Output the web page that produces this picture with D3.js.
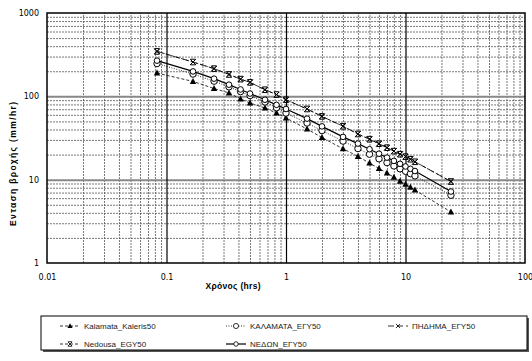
<!DOCTYPE html>
<html>
<head>
<meta charset="utf-8">
<script src="https://cdn.jsdelivr.net/npm/d3@7"></script>
<style>
  body { margin: 0; background: #fff; }
  svg { display: block; font-family: "Liberation Sans", Arial, sans-serif; }
</style>
</head>
<body>
<script>
// durations in hours (5 min ... 24 h)
const durations = [0.0833, 0.1667, 0.25, 0.3333, 0.4167, 0.5, 0.6667, 0.8333, 1,
  1.5, 2, 3, 4, 5, 6, 7, 8, 9, 10, 11, 12, 24];

const kalamataKaleris = [190, 151, 124, 110, 93, 83, 72.4, 63, 55,
  40.5, 32, 23.5, 19, 15.8, 13.6, 12, 10.7, 9.6, 8.8, 8.1, 7.5, 4.1];
const kalamataEgy = [247, 185, 152, 130, 114, 102, 85.5, 73, 63,
  47.8, 38.8, 29, 23.6, 20.2, 17.8, 16, 14.6, 13.5, 12.6, 11.8, 11.1, 6.5];
const pidimaEgy = [346, 258, 215, 183, 161, 147, 120, 105, 91,
  70.5, 57.4, 43.8, 35.3, 30.6, 27, 24.2, 22, 20.2, 18.9, 17.6, 16.4, 9.5];
const nedousaEgy = [346, 258, 215, 183, 161, 147, 120, 105, 91,
  70.5, 57.4, 43.8, 35.3, 30.6, 27, 24.2, 22, 20.2, 18.9, 17.6, 16.4, 9.5];
const nedonEgy = [268, 199, 163, 138, 121, 108, 91, 79, 70.5,
  54, 43.6, 32.6, 27.1, 23.2, 20.5, 18.4, 16.8, 15.5, 14.4, 13.5, 12.7, 7.2];

const xTicks = [0.01, 0.1, 1, 10, 100];
const yTicks = [1, 10, 100, 1000];

const series = [
  { name: "Kalamata_Kaleris50", values: kalamataKaleris, dash: "3,2", marker: "triangle" },
  { name: "ΚΑΛΑΜΑΤΑ_ΕΓΥ50", values: kalamataEgy, dash: "1,1.5", marker: "circle" },
  { name: "ΠΗΔΗΜΑ_ΕΓΥ50", values: pidimaEgy, dash: "6,3", marker: "x" },
  { name: "Nedousa_EGY50", values: nedousaEgy, dash: "3,2", marker: "star" },
  { name: "ΝΕΔΩΝ_ΕΓΥ50", values: nedonEgy, dash: null, marker: "smallcircle" }
];

const width = 532, height = 361;
const marginLeft = 47, marginTop = 13;
const plotW = 478, plotH = 250;

const svg = d3.select("body").append("svg")
  .attr("width", width).attr("height", height);

const x = d3.scaleLog().domain([0.01, 100]).range([0, plotW]);
const y = d3.scaleLog().domain([1, 1000]).range([plotH, 0]);

const g = svg.append("g").attr("transform", "translate(" + marginLeft + "," + marginTop + ")");

// minor grid values
const minorX = [], minorY = [];
[0.01, 0.1, 1, 10].forEach(function (d) {
  for (let k = 2; k <= 9; k++) minorX.push(d * k);
});
[1, 10, 100].forEach(function (d) {
  for (let k = 2; k <= 9; k++) minorY.push(d * k);
});

g.append("g")
  .attr("transform", "translate(0," + plotH + ")")
  .call(d3.axisBottom(x).tickValues(minorX).tickSize(-plotH).tickFormat(""))
  .call(function (a) {
    a.select(".domain").remove();
    a.selectAll("line").attr("stroke", "#555").attr("stroke-width", 0.8).attr("stroke-dasharray", "2,1");
  });

g.append("g")
  .call(d3.axisLeft(y).tickValues(minorY).tickSize(-plotW).tickFormat(""))
  .call(function (a) {
    a.select(".domain").remove();
    a.selectAll("line").attr("stroke", "#555").attr("stroke-width", 0.8).attr("stroke-dasharray", "2,1");
  });

// major grid
g.append("g")
  .call(d3.axisLeft(y).tickValues([10, 100]).tickSize(-plotW).tickFormat(""))
  .call(function (a) {
    a.select(".domain").remove();
    a.selectAll("line").attr("stroke", "#888").attr("stroke-width", 2);
  });

g.append("g")
  .attr("transform", "translate(0," + plotH + ")")
  .call(d3.axisBottom(x).tickValues([0.1, 1, 10]).tickSize(-plotH).tickFormat(""))
  .call(function (a) {
    a.select(".domain").remove();
    a.selectAll("line").attr("stroke", "#000").attr("stroke-width", 1.2);
  });

// tick labels
g.append("g")
  .attr("transform", "translate(0," + plotH + ")")
  .call(d3.axisBottom(x).tickValues(xTicks).tickSize(0).tickPadding(11)
    .tickFormat(function (d) { return String(d); }))
  .call(function (a) {
    a.select(".domain").remove();
    a.selectAll("text").attr("font-size", 8).attr("fill", "#000")
      .attr("font-family", "'DejaVu Sans', sans-serif");
  });

g.append("g")
  .call(d3.axisLeft(y).tickValues(yTicks).tickSize(0).tickPadding(8)
    .tickFormat(function (d) { return String(d); }))
  .call(function (a) {
    a.select(".domain").remove();
    a.selectAll("text").attr("font-size", 8).attr("fill", "#000")
      .attr("font-family", "'DejaVu Sans', sans-serif");
  });

// border
g.append("rect").attr("width", plotW).attr("height", plotH)
  .attr("fill", "none").attr("stroke", "#000").attr("stroke-width", 1.5);

// clip
svg.append("clipPath").attr("id", "clip").append("rect")
  .attr("width", plotW).attr("height", plotH);

const plot = g.append("g").attr("clip-path", "url(#clip)");

function drawMarker(sel, type) {
  if (type === "triangle") {
    sel.append("path").attr("d", "M0,-3.5L3.2,2.5L-3.2,2.5Z").attr("fill", "#000");
  } else if (type === "circle") {
    sel.append("circle").attr("r", 3.2).attr("fill", "#fff").attr("stroke", "#000").attr("stroke-width", 1);
  } else if (type === "smallcircle") {
    sel.append("circle").attr("r", 2.8).attr("fill", "#fff").attr("stroke", "#000").attr("stroke-width", 1);
  } else if (type === "x") {
    sel.append("path").attr("d", "M-2.6,-2.6L2.6,2.6M-2.6,2.6L2.6,-2.6")
      .attr("stroke", "#000").attr("stroke-width", 1);
  } else if (type === "star") {
    sel.append("path").attr("d", "M-2.6,-2.6L2.6,2.6M-2.6,2.6L2.6,-2.6M-2.6,-2.8L2.6,-2.8M-2.6,2.8L2.6,2.8")
      .attr("stroke", "#000").attr("stroke-width", 1);
  }
}

const line = d3.line()
  .x(function (d) { return x(d[0]); })
  .y(function (d) { return y(d[1]); });

series.forEach(function (s) {
  const pts = durations.map(function (t, i) { return [t, s.values[i]]; });
  plot.append("path").datum(pts)
    .attr("fill", "none")
    .attr("stroke", "#000")
    .attr("stroke-width", s.dash ? 0.8 : 1.2)
    .attr("stroke-dasharray", s.dash)
    .attr("d", line);
});

series.forEach(function (s) {
  const pts = durations.map(function (t, i) { return [t, s.values[i]]; });
  plot.selectAll(null).data(pts).enter().append("g")
    .attr("transform", function (d) { return "translate(" + x(d[0]) + "," + y(d[1]) + ")"; })
    .each(function () { drawMarker(d3.select(this), s.marker); });
});

// axis titles
svg.append("text")
  .attr("x", 233).attr("y", 289)
  .attr("text-anchor", "middle")
  .attr("font-size", 8.5).attr("font-weight", "bold")
  .attr("textLength", 55).attr("lengthAdjust", "spacing")
  .text("Χρόνος (hrs)");

svg.append("text")
  .attr("transform", "translate(16,164) rotate(-90)")
  .attr("text-anchor", "middle")
  .attr("font-size", 8.5).attr("font-weight", "bold")
  .attr("textLength", 124).attr("lengthAdjust", "spacing")
  .text("Ενταση βροχής (mm/hr)");

// legend
const legend = svg.append("g");
legend.append("rect").attr("x", 43).attr("y", 318).attr("width", 486).attr("height", 34)
  .attr("fill", "#555");
legend.append("rect").attr("x", 41).attr("y", 316).attr("width", 486).attr("height", 34)
  .attr("fill", "#fff").attr("stroke", "#000").attr("stroke-width", 1);

const legendPos = [
  { x: 60, y: 326 }, { x: 226, y: 326 }, { x: 388, y: 326 },
  { x: 60, y: 344 }, { x: 226, y: 344 }
];

series.forEach(function (s, i) {
  const p = legendPos[i];
  const item = legend.append("g").attr("transform", "translate(" + p.x + "," + p.y + ")");
  item.append("line").attr("x1", 0).attr("x2", 20).attr("y1", 0).attr("y2", 0)
    .attr("stroke", "#000").attr("stroke-width", s.dash ? 0.8 : 1.2)
    .attr("stroke-dasharray", s.dash);
  const m = item.append("g").attr("transform", "translate(10,0) scale(0.8)");
  drawMarker(m, s.marker);
  item.append("text").attr("x", 24).attr("y", 0).attr("dy", "0.35em")
    .attr("font-size", 8).attr("fill", "#222").text(s.name);
});
</script>
</body>
</html>
